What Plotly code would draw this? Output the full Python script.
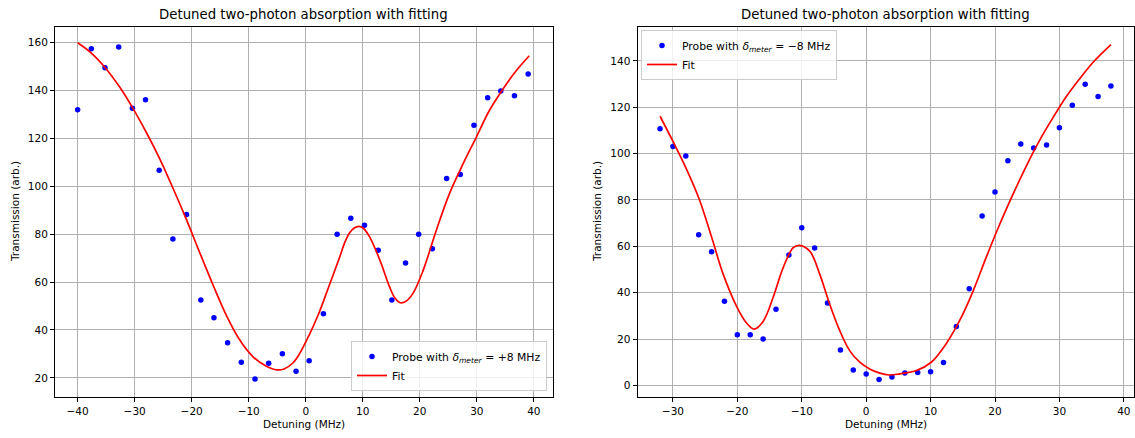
import plotly.graph_objects as go
from plotly.subplots import make_subplots

# ---------- Left panel data (delta_meter = +8 MHz) ----------
left_x = [-40.0, -37.6, -35.2, -32.8, -30.4, -28.1, -25.7, -23.3, -20.9, -18.4,
          -16.1, -13.7, -11.3, -8.9, -6.5, -4.1, -1.7, 0.6, 3.1, 5.5,
          7.9, 10.3, 12.7, 15.1, 17.5, 19.8, 22.2, 24.7, 27.1, 29.5,
          31.9, 34.2, 36.6, 39.0]
left_y = [132.0, 157.5, 149.6, 158.2, 132.6, 136.2, 106.7, 78.0, 88.3, 52.5,
          45.1, 34.7, 26.5, 19.5, 26.1, 30.1, 22.8, 27.1, 46.8, 80.0,
          86.7, 83.8, 73.3, 52.5, 68.0, 80.0, 73.9, 103.3, 105.0, 125.5,
          137.0, 139.9, 137.9, 147.0]

left_fit_x = [-40.0, -37.6, -35.2, -32.6, -30.3, -27.9, -25.6, -23.2, -20.9, -18.6,
              -16.2, -13.9, -11.6, -9.2, -6.9, -5.3, -3.8, -2.3, -1.1, 0.6,
              2.3, 4.1, 5.96, 6.8, 7.7, 8.5, 9.3, 10.1, 11.2, 13.0,
              14.7, 15.6, 16.6, 17.5, 18.8, 20.6, 22.9, 25.2, 27.6, 29.9,
              32.2, 34.6, 36.9, 39.2]
left_fit_y = [160.0, 155.7, 149.7, 141.4, 132.6, 122.3, 111.5, 98.8, 86.0, 72.4,
              58.5, 46.0, 35.9, 28.7, 24.8, 23.4, 23.7, 26.1, 30.0, 37.9,
              47.0, 58.5, 70.5, 76.3, 80.6, 82.6, 83.3, 82.5, 78.9, 69.2,
              58.0, 53.5, 51.4, 51.9, 55.3, 65.0, 81.7, 97.0, 109.5, 120.5,
              131.7, 140.7, 148.3, 154.6]

# ---------- Right panel data (delta_meter = -8 MHz) ----------
right_x = [-32, -30, -28, -26, -24, -22, -20, -18, -16, -14,
           -12, -10, -8, -6, -4, -2, 0, 2, 4, 6,
           8, 10, 12, 14, 16, 18, 20, 22, 24, 26,
           28, 30, 32, 34, 36, 38]
right_y = [110.7, 103.0, 99.0, 65.0, 57.7, 36.3, 21.9, 21.9, 20.0, 32.9,
           56.3, 68.0, 59.3, 35.6, 15.3, 6.6, 4.9, 2.6, 3.6, 5.4,
           5.6, 5.9, 9.9, 25.4, 41.7, 73.1, 83.4, 96.9, 104.1, 102.4,
           103.7, 111.1, 120.9, 129.9, 124.6, 129.1]

right_fit_x = [-32.0, -29.95, -27.9, -25.9, -24.0, -22.2, -20.1, -18.6, -17.4, -16.0,
               -14.45, -12.9, -11.35, -10.4, -8.76, -7.2, -5.66, -4.1, -2.56, -1.0,
               0.54, 2.0, 3.6, 5.2, 7.8, 10.1, 12.4, 14.5, 16.6, 18.6,
               20.7, 22.8, 24.8, 26.9, 29.0, 31.0, 33.1, 35.2, 38.0]
right_fit_y = [116.1, 105.0, 93.3, 80.2, 64.0, 48.0, 34.0, 27.0, 24.3, 27.6,
               37.9, 50.7, 59.3, 60.4, 57.9, 47.9, 35.0, 23.6, 15.0, 10.0,
               7.1, 5.4, 4.5, 5.0, 6.4, 10.0, 17.9, 27.9, 40.7, 55.0,
               69.3, 82.5, 94.3, 105.6, 115.5, 124.3, 132.1, 139.3, 147.0]

left_ticks = [-40, -30, -20, -10, 0, 10, 20, 30, 40]
left_yticks = [20, 40, 60, 80, 100, 120, 140, 160]
right_ticks = [-30, -20, -10, 0, 10, 20, 30, 40]
right_yticks = [0, 20, 40, 60, 80, 100, 120, 140]

TITLE = "Detuned two-photon absorption with fitting"
XLAB = "Detuning (MHz)"
YLAB = "Transmission (arb.)"

W, H = 1135, 438
FONT = "DejaVu Sans"

fig = make_subplots(rows=1, cols=2)

fig.add_trace(go.Scatter(x=left_x, y=left_y, mode="markers",
                         marker=dict(color="#0000ff", size=5.5),
                         name="Probe with <i>δ</i><sub><i>meter</i></sub> = +8 MHz",
                         legend="legend"), row=1, col=1)
fig.add_trace(go.Scatter(x=left_fit_x, y=left_fit_y, mode="lines",
                         line=dict(color="#ff0000", width=1.7, shape="spline", smoothing=1.0),
                         name="Fit", legend="legend"), row=1, col=1)
fig.add_trace(go.Scatter(x=right_x, y=right_y, mode="markers",
                         marker=dict(color="#0000ff", size=5.5),
                         name="Probe with <i>δ</i><sub><i>meter</i></sub> = −8 MHz",
                         legend="legend2"), row=1, col=2)
fig.add_trace(go.Scatter(x=right_fit_x, y=right_fit_y, mode="lines",
                         line=dict(color="#ff0000", width=1.7, shape="spline", smoothing=1.0),
                         name="Fit", legend="legend2"), row=1, col=2)

ydom = [1 - 397 / H, 1 - 27 / H]
axis_common = dict(showline=True, mirror=True, linecolor="black", linewidth=1,
                   ticks="outside", ticklen=4, tickwidth=1, tickcolor="black",
                   showgrid=True, gridcolor="#b0b0b0", gridwidth=0.8,
                   zeroline=False, tickfont=dict(family=FONT, size=10.5, color="black"))

fig.update_xaxes(domain=[55 / W, 552.5 / W], range=[-43.97, 43.27],
                 tickvals=left_ticks, row=1, col=1, **axis_common)
fig.update_yaxes(domain=ydom, range=[12.0, 166.6],
                 tickvals=left_yticks, row=1, col=1, **axis_common)
fig.update_xaxes(domain=[637.5 / W, 1133.5 / W], range=[-35.5, 41.5],
                 tickvals=right_ticks, row=1, col=2, **axis_common)
fig.update_yaxes(domain=ydom, range=[-5.0, 154.6],
                 tickvals=right_yticks, row=1, col=2, **axis_common)

ann = []
for (cx, ylx) in [((55 + 552.5) / 2 / W, 15 / W), ((637.5 + 1133.5) / 2 / W, 597 / W)]:
    ann.append(dict(text=TITLE, x=cx, y=1 - 14 / H, xref="paper", yref="paper",
                    xanchor="center", yanchor="middle", showarrow=False,
                    font=dict(family=FONT, size=13.3, color="black")))
    ann.append(dict(text=XLAB, x=cx, y=1 - 424 / H, xref="paper", yref="paper",
                    xanchor="center", yanchor="middle", showarrow=False,
                    font=dict(family=FONT, size=10.5, color="black")))
    ann.append(dict(text=YLAB, x=ylx, y=(ydom[0] + ydom[1]) / 2, xref="paper", yref="paper",
                    xanchor="center", yanchor="middle", showarrow=False, textangle=-90,
                    font=dict(family=FONT, size=10.5, color="black")))

legend_common = dict(bgcolor="rgba(255,255,255,0.8)", bordercolor="#cccccc", borderwidth=1,
                     font=dict(family=FONT, size=10.8, color="black"),
                     itemwidth=30, tracegroupgap=0)

fig.update_layout(
    width=W, height=H,
    margin=dict(l=0, r=0, t=0, b=0),
    paper_bgcolor="white", plot_bgcolor="white",
    font=dict(family=FONT, color="black"),
    annotations=ann,
    legend=dict(x=547 / W, y=1 - 391 / H, xanchor="right", yanchor="bottom", **legend_common),
    legend2=dict(x=641 / W, y=1 - 30 / H, xanchor="left", yanchor="top", **legend_common),
)

fig.write_html("out.html")
